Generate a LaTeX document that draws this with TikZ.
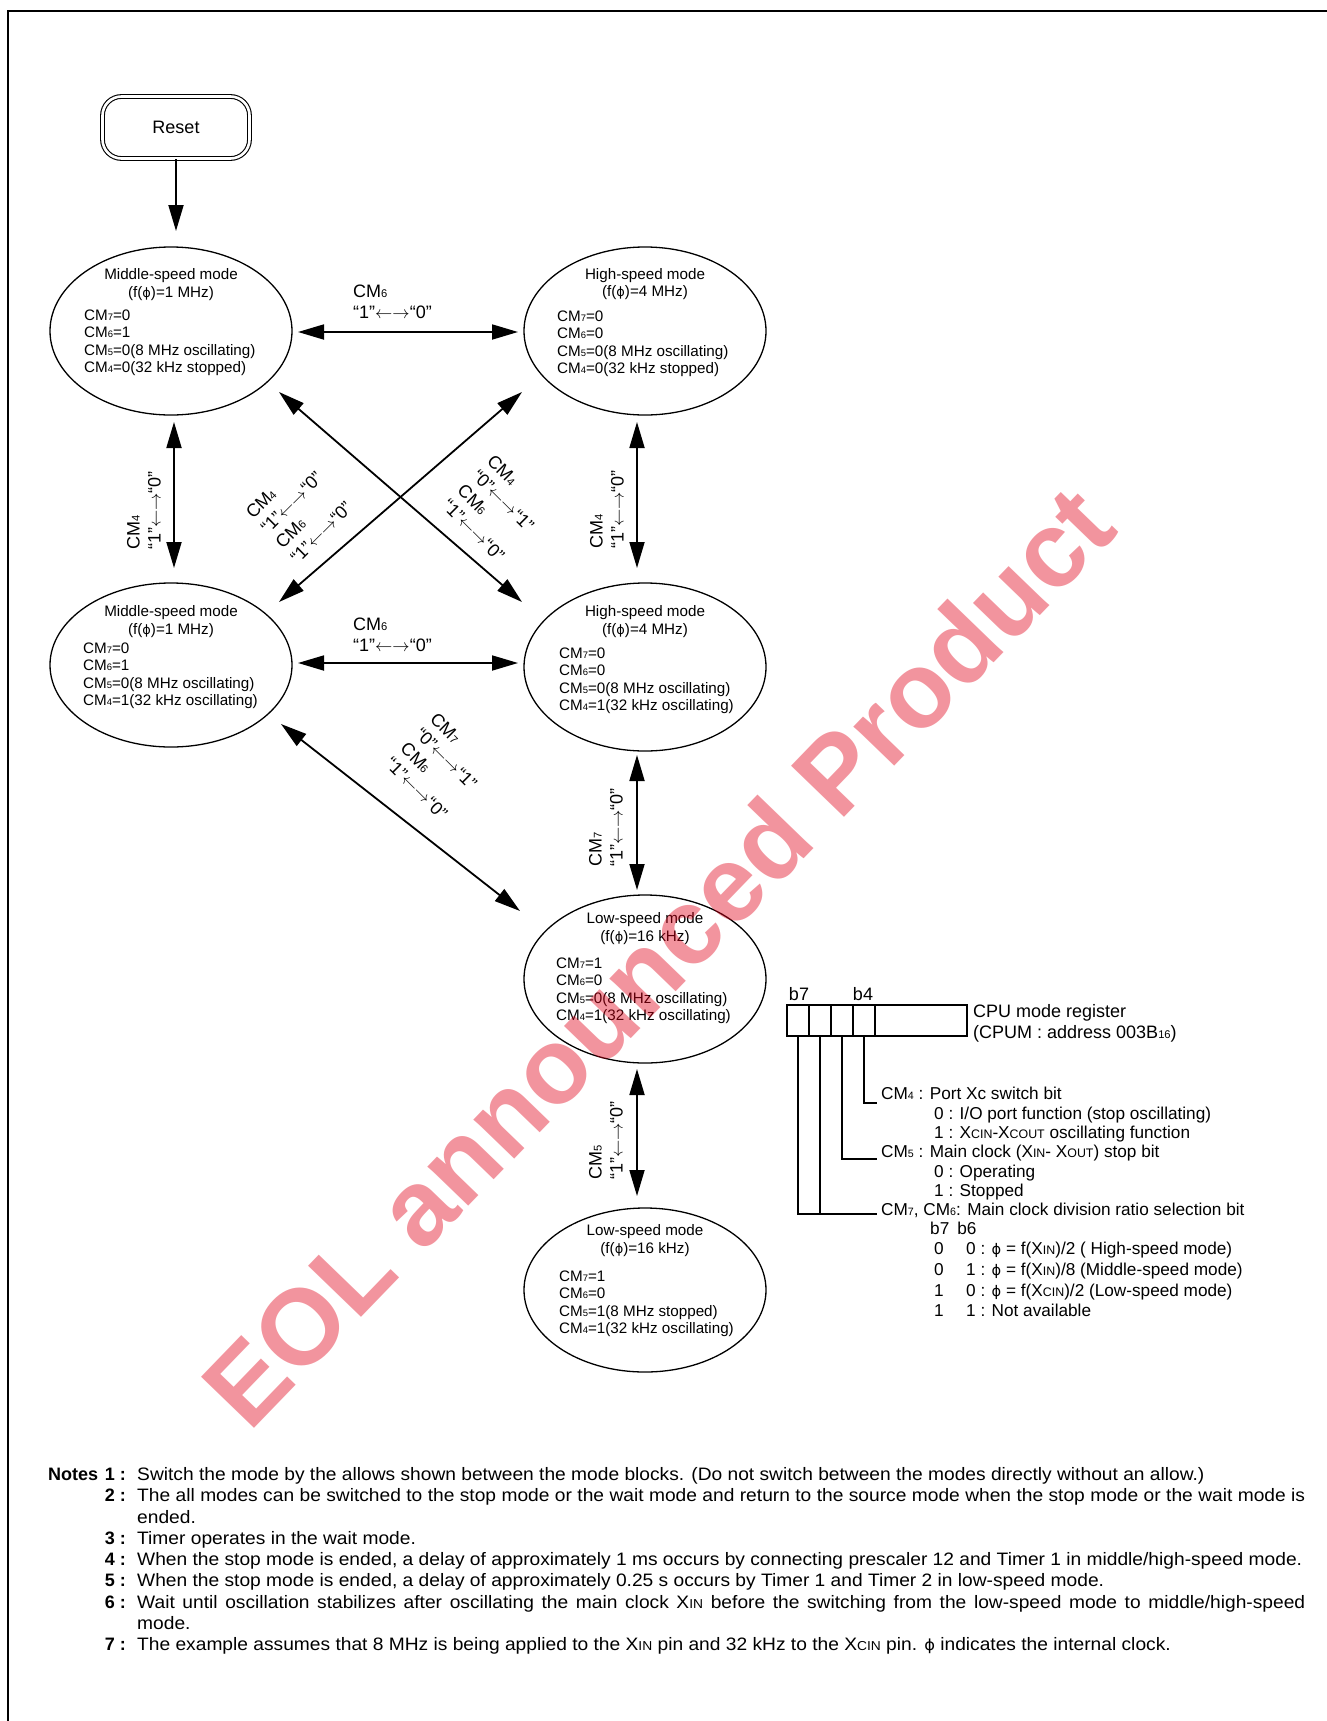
\documentclass[tikz,border=0pt]{standalone}
\usepackage{fontspec}
\setmainfont{Liberation Sans}
\newfontfamily\djv{DejaVu Sans}
\usetikzlibrary{arrows.meta,shapes.geometric}
\newcommand{\sbs}[1]{\scalebox{0.62}{#1}}
\newcommand{\smc}[1]{\scalebox{0.72}{#1}}
\newcommand{\lra}{$\leftarrow\rightarrow$}
\newcommand{\ph}{{\djv\scalebox{0.85}{ϕ}}}
\newcommand{\wide}[1]{\scalebox{1.066}[1]{#1}}
\definecolor{wmred}{RGB}{226,0,24}
\tikzset{
  modebox/.style={draw, line width=1.3pt, ellipse, minimum width=242pt, minimum height=168pt, inner sep=0pt},
  etext/.style={font=\fontsize{15.2}{18}\selectfont, inner sep=0pt, yshift=-2.5pt},
  eline/.style={etext, anchor=mid west},
  lbl/.style={font=\fontsize{18}{21}\selectfont, align=left, inner sep=0pt},
  dbl/.style={line width=1.8pt, {Triangle[length=26pt,width=15pt]}-{Triangle[length=26pt,width=15pt]}},
  sgl/.style={line width=1.8pt, -{Triangle[length=26pt,width=15pt]}},
  regtxt/.style={font=\fontsize{17.2}{20}\selectfont, inner sep=0pt, anchor=mid west},
  cell/.style={draw, line width=1.3pt, minimum height=31pt, inner sep=0pt},
  notetxt/.style={font=\fontsize{18}{21}\selectfont, inner sep=0pt, anchor=mid west},
  notenum/.style={font=\fontsize{18}{21}\selectfont\bfseries, inner sep=0pt, anchor=mid east},
  leader/.style={line width=1.3pt}
}
\begin{document}
\begin{tikzpicture}[x=1pt,y=-1pt]
\useasboundingbox (0,0) rectangle (1327,1721);
\fill[white] (0,0) rectangle (1327,1721);
% frame
\draw[line width=2.6pt] (8,1760) -- (8,11) -- (1360,11);

% Reset
\node[draw, line width=1.1pt, double=white, double distance=2.6pt, rounded corners=19pt,
      minimum width=147pt, minimum height=62pt, inner sep=0pt,
      font=\fontsize{18}{21}\selectfont] (reset) at (176,127.5) {Reset};

% mode ellipses
\node[modebox] (ms1) at (171,331) {};
\node[modebox] (hs1) at (645,331) {};
\node[modebox, minimum height=164pt] (ms2) at (171,665) {};
\node[modebox] (hs2) at (645,667) {};
\node[modebox] (ls1) at (645,979) {};
\node[modebox, minimum height=164pt] (ls2) at (645,1290) {};

% ellipse texts
\node[etext] (ms1a) at (171,273) {Middle-speed mode};
\node[etext] (ms1b) at (171,291) {(f(\ph)=1 MHz)};
\node[eline] (ms1c) at (84,315) {CM\sbs{7}=0};
\node[eline] (ms1d) at (84,332.5) {CM\sbs{6}=1};
\node[eline] (ms1e) at (84,350) {CM\sbs{5}=0(8 MHz oscillating)};
\node[eline] (ms1f) at (84,367.5) {CM\sbs{4}=0(32 kHz stopped)};

\node[etext] (hs1a) at (645,273) {High-speed mode};
\node[etext] (hs1b) at (645,290) {(f(\ph)=4 MHz)};
\node[eline] (hs1c) at (557,316) {CM\sbs{7}=0};
\node[eline] (hs1d) at (557,333.5) {CM\sbs{6}=0};
\node[eline] (hs1e) at (557,351) {CM\sbs{5}=0(8 MHz oscillating)};
\node[eline] (hs1f) at (557,368.5) {CM\sbs{4}=0(32 kHz stopped)};

\node[etext] (ms2a) at (171,610) {Middle-speed mode};
\node[etext] (ms2b) at (171,628) {(f(\ph)=1 MHz)};
\node[eline] (ms2c) at (83,648) {CM\sbs{7}=0};
\node[eline] (ms2d) at (83,665.5) {CM\sbs{6}=1};
\node[eline] (ms2e) at (83,683) {CM\sbs{5}=0(8 MHz oscillating)};
\node[eline] (ms2f) at (83,700.5) {CM\sbs{4}=1(32 kHz oscillating)};

\node[etext] (hs2a) at (645,610) {High-speed mode};
\node[etext] (hs2b) at (645,628) {(f(\ph)=4 MHz)};
\node[eline] (hs2c) at (559,653) {CM\sbs{7}=0};
\node[eline] (hs2d) at (559,670.5) {CM\sbs{6}=0};
\node[eline] (hs2e) at (559,688) {CM\sbs{5}=0(8 MHz oscillating)};
\node[eline] (hs2f) at (559,705.5) {CM\sbs{4}=1(32 kHz oscillating)};

\node[etext] (ls1a) at (645,917) {Low-speed mode};
\node[etext] (ls1b) at (645,935) {(f(\ph)=16 kHz)};
\node[eline] (ls1c) at (556,963) {CM\sbs{7}=1};
\node[eline] (ls1d) at (556,980.5) {CM\sbs{6}=0};
\node[eline] (ls1e) at (556,998) {CM\sbs{5}=0(8 MHz oscillating)};
\node[eline] (ls1f) at (556,1015.5) {CM\sbs{4}=1(32 kHz oscillating)};

\node[etext] (ls2a) at (645,1229) {Low-speed mode};
\node[etext] (ls2b) at (645,1247) {(f(\ph)=16 kHz)};
\node[eline] (ls2c) at (559,1276) {CM\sbs{7}=1};
\node[eline] (ls2d) at (559,1293.5) {CM\sbs{6}=0};
\node[eline] (ls2e) at (559,1311) {CM\sbs{5}=1(8 MHz stopped)};
\node[eline] (ls2f) at (559,1328.5) {CM\sbs{4}=1(32 kHz oscillating)};

% arrow end points
\coordinate (rtip) at (176,231);
\coordinate (v1a) at (174,422); \coordinate (v1b) at (174,568);
\coordinate (v2a) at (637,422); \coordinate (v2b) at (637,568);
\coordinate (v3a) at (637,755); \coordinate (v3b) at (637,890);
\coordinate (v4a) at (637,1069); \coordinate (v4b) at (637,1196);
\coordinate (h1a) at (298,332); \coordinate (h1b) at (518,332);
\coordinate (h2a) at (298,663); \coordinate (h2b) at (518,663);
\coordinate (d1a) at (279,392); \coordinate (d1b) at (522,602);
\coordinate (d2a) at (279,602); \coordinate (d2b) at (522,392);
\coordinate (d3a) at (281,724); \coordinate (d3b) at (520,911);

\draw[sgl] (reset.south) -- (rtip);
\draw[dbl] (v1a) -- (v1b);
\draw[dbl] (v2a) -- (v2b);
\draw[dbl] (v3a) -- (v3b);
\draw[dbl] (v4a) -- (v4b);
\draw[dbl] (h1a) -- (h1b);
\draw[dbl] (h2a) -- (h2b);
\draw[dbl] (d1a) -- (d1b);
\draw[dbl] (d2a) -- (d2b);
\draw[dbl] (d3a) -- (d3b);

% arrow labels
\node[lbl, anchor=west] (lh1) at (353,302) {CM\sbs{6}\\“1”\lra“0”};
\node[lbl, anchor=west] (lh2) at (353,635) {CM\sbs{6}\\“1”\lra“0”};
\node[lbl, anchor=west, rotate=90] (lv1) at (144,550) {CM\sbs{4}\\“1”\lra“0”};
\node[lbl, anchor=west, rotate=90] (lv2) at (607,549) {CM\sbs{4}\\“1”\lra“0”};
\node[lbl, anchor=west, rotate=90] (lv3) at (606,867) {CM\sbs{7}\\“1”\lra“0”};
\node[lbl, anchor=west, rotate=90] (lv4) at (606,1180) {CM\sbs{5}\\“1”\lra“0”};
\node[lbl, anchor=west, rotate=45] (ld2) at (271,538) {CM\sbs{4}\\“1”\lra“0”\\CM\sbs{6}\\“1”\lra“0”};
\node[lbl, anchor=west, rotate=-45] (ld1) at (468,480) {CM\sbs{4}\\“0”\lra“1”\\CM\sbs{6}\\“1”\lra“0”};
\node[lbl, anchor=west, rotate=-45] (ld3) at (411,738) {CM\sbs{7}\\“0”\lra“1”\\CM\sbs{6}\\“1”\lra“0”};

% CPU mode register
\node[cell, minimum width=22pt] (c7) at (798,1020.5) {};
\node[cell, minimum width=22pt] (c6) at (820,1020.5) {};
\node[cell, minimum width=22pt] (c5) at (842,1020.5) {};
\node[cell, minimum width=22pt] (c4) at (864,1020.5) {};
\node[cell, minimum width=92pt] (crest) at (921,1020.5) {};
\node[font=\fontsize{18}{21}\selectfont, inner sep=0pt] (b7) at (799,994) {b7};
\node[font=\fontsize{18}{21}\selectfont, inner sep=0pt] (b4) at (863,994) {b4};
\node[font=\fontsize{18}{21}\selectfont, align=left, inner sep=0pt, anchor=west] (cpum) at (973,1023)
  {CPU mode register\\(CPUM : address 003B\sbs{16})};

\node[regtxt] (t4) at (881,1097) {CM\sbs{4} : Port Xc switch bit};
\node[regtxt] (t4a) at (934,1116.5) {0 : I/O port function (stop oscillating)};
\node[regtxt] (t4b) at (934,1136) {1 : X\smc{CIN}-X\smc{COUT} oscillating function};
\node[regtxt] (t5) at (881,1155) {CM\sbs{5} : Main clock (X\smc{IN}- X\smc{OUT}) stop bit};
\node[regtxt] (t5a) at (934,1174.5) {0 : Operating};
\node[regtxt] (t5b) at (934,1193.5) {1 : Stopped};
\node[regtxt] (t76) at (881,1213) {CM\sbs{7}, CM\sbs{6}: Main clock division ratio selection bit};
\node[regtxt] (tb) at (930,1232) {b7\hspace{8pt}b6};
\node[regtxt] (r1a) at (934,1252) {0};
\node[regtxt] (r1b) at (966,1252) {0 : \ph{} = f(X\smc{IN})/2 ( High-speed mode)};
\node[regtxt] (r2a) at (934,1272.5) {0};
\node[regtxt] (r2b) at (966,1272.5) {1 : \ph{} = f(X\smc{IN})/8 (Middle-speed mode)};
\node[regtxt] (r3a) at (934,1293.5) {1};
\node[regtxt] (r3b) at (966,1293.5) {0 : \ph{} = f(X\smc{CIN})/2 (Low-speed mode)};
\node[regtxt] (r4a) at (934,1314) {1};
\node[regtxt] (r4b) at (966,1314) {1 : Not available};

\coordinate (l4) at (877,1103);
\coordinate (l5) at (877,1159);
\coordinate (l76) at (877,1214);
\draw[leader] (c4.south) |- (l4);
\draw[leader] (c5.south) |- (l5);
\draw[leader] (c7.south) |- (l76);
\draw[leader] (c6.south) -- (c6.south |- l76);

% notes
\node[notenum, anchor=mid west] (notes) at (48,1478) {Notes};
\node[notenum] (n1) at (126,1478) {1 :};
\node[notenum] (n2) at (126,1499.2) {2 :};
\node[notenum] (n3) at (126,1541.7) {3 :};
\node[notenum] (n4) at (126,1562.9) {4 :};
\node[notenum] (n5) at (126,1584.1) {5 :};
\node[notenum] (n6) at (126,1605.4) {6 :};
\node[notenum] (n7) at (126,1647.8) {7 :};
\node[notetxt] (m1) at (137,1478) {\wide{Switch the mode by the allows shown between the mode blocks. (Do not switch between the modes directly without an allow.)}};
\node[notetxt] (m2) at (137,1499.2) {\wide{\makebox[1095.7pt][s]{The all modes can be switched to the stop mode or the wait mode and return to the source mode when the stop mode or the wait mode is}}};
\node[notetxt] (m2b) at (137,1520.4) {\wide{ended.}};
\node[notetxt] (m3) at (137,1541.7) {\wide{Timer operates in the wait mode.}};
\node[notetxt] (m4) at (137,1562.9) {\wide{When the stop mode is ended, a delay of approximately 1 ms occurs by connecting prescaler 12 and Timer 1 in middle/high-speed mode.}};
\node[notetxt] (m5) at (137,1584.1) {\wide{When the stop mode is ended, a delay of approximately 0.25 s occurs by Timer 1 and Timer 2 in low-speed mode.}};
\node[notetxt] (m6) at (137,1605.4) {\wide{\makebox[1095.7pt][s]{Wait until oscillation stabilizes after oscillating the main clock X\smc{IN} before the switching from the low-speed mode to middle/high-speed}}};
\node[notetxt] (m6b) at (137,1626.6) {\wide{mode.}};
\node[notetxt] (m7) at (137,1647.8) {\wide{The example assumes that 8 MHz is being applied to the X\smc{IN} pin and 32 kHz to the X\smc{CIN} pin. \ph{} indicates the internal clock.}};

% watermark
\node[rotate=46, anchor=base west, inner sep=0pt, text=wmred, text opacity=0.42,
      font=\fontsize{107}{107}\selectfont\bfseries] (wm) at (249,1434) {EOL announced Product};
\end{tikzpicture}
\end{document}
